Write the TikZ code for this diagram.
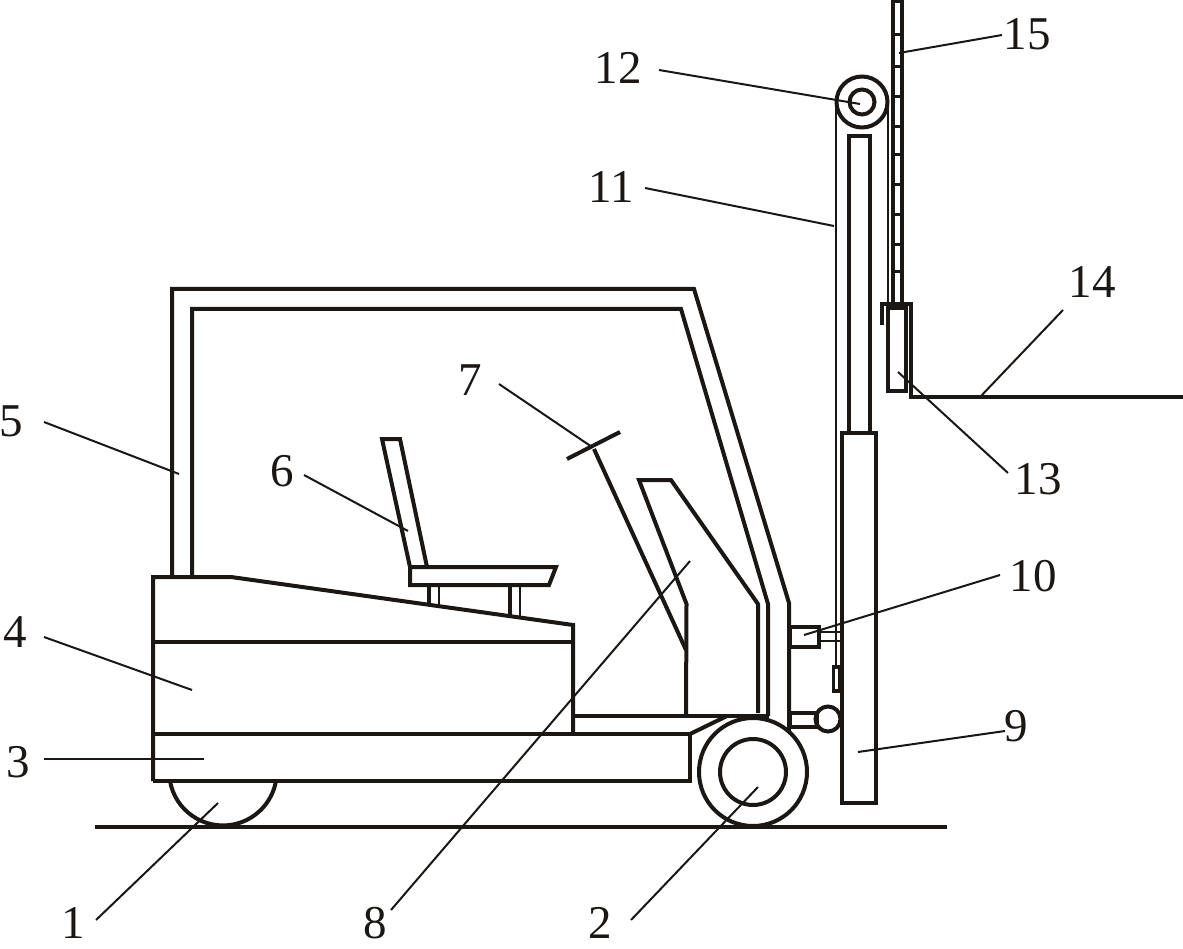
\documentclass[tikz,border=0pt]{standalone}
\usepackage{fontspec}
\setmainfont{Liberation Serif}
\definecolor{inkc}{HTML}{1A1714}
\tikzset{
  part/.style={line width=4pt,line join=miter,draw=inkc},
  thinpart/.style={line width=2.8pt,draw=inkc},
  leader/.style={line width=2pt,draw=inkc},
  lab/.style={inner sep=0pt,text=inkc,font=\fontsize{47}{47}\selectfont}
}
\begin{document}
\begin{tikzpicture}[x=1pt,y=-1pt]
\useasboundingbox (0,0) rectangle (1183,949);
% ground
\draw[part] (95,827) -- (947,827);
% rear wheel
\draw[part] (170,781) arc[start angle=170,end angle=10,radius=53.8];
% chassis
\draw[part] (153,781) -- (690,781) -- (690,734) -- (153,734);
\draw[part] (690,734) -- (727,716);
\draw[part] (573,716) -- (769,716);
% battery cover
\draw[part] (153,781) -- (153,577) -- (231,577) -- (573,625) -- (573,734);
\draw[part] (153,642) -- (573,642);
% overhead guard
\draw[part] (172,577) -- (172,289) -- (694,289) -- (789,603) -- (789,731);
\draw[part] (192,577) -- (192,309) -- (681,309) -- (768,604) -- (768,716);
% front panel
\draw[part] (686,716) -- (686.5,604) -- (639,480) -- (671,480) -- (758,604) -- (758,713);
% steering
\draw[part] (594,449) -- (686,650);
\draw[part] (567,459) -- (620,432);
% seat
\draw[part] (410,567) -- (382,439) -- (400,439) -- (427,567);
\draw[part] (410,567) -- (556,567) -- (549,585) -- (410,585) -- cycle;
\draw[part] (429,585) -- (429,605);
\draw[thinpart] (439,585) -- (439,606);
\draw[part] (510,585) -- (510,616);
\draw[thinpart] (520,585) -- (520,617);
% front wheel
\draw[part] (753,772) circle[radius=54];
\draw[part] (753,772) circle[radius=33];
% mast
\draw[part] (849,433) -- (849,136) -- (870,136) -- (870,433);
\draw[part] (842,433) rectangle (876,803);
% pulley and chain
\draw[part] (862,102) circle[radius=25.5];
\draw[part] (862,102) circle[radius=12.5];
\draw[thinpart] (836,104) -- (836,667);
\draw[thinpart] (888,104) -- (888,304);
\draw[part,line width=3.2pt] (833.5,667) rectangle (840,691);
% tilt cylinder
\draw[part] (790,627) rectangle (819,647);
\draw[thinpart] (819,632) -- (841,632);
\draw[thinpart] (819,641) -- (841,641);
\draw[part] (790,713) rectangle (817,727);
\draw[part] (828,719) circle[radius=12.5];
% rack
\draw[part] (893,0) -- (893,303);
\draw[part] (901.5,0) -- (901.5,303);
\foreach \ry in {2,35,67,97,127,155,185,215,245,272}
  \draw[part,line width=3pt] (893,\ry) -- (901.5,\ry);
% carriage and fork
\draw[part] (882,325) -- (882,304) -- (911,304) -- (911,396.5) -- (1183,396.5);
\draw[part] (887.5,308) rectangle (906,391);
% labels
\node[lab] (l1) at (73,923) {1};
\node[lab] (l2) at (600,923) {2};
\node[lab] (l3) at (18,762) {3};
\node[lab] (l4) at (15,632) {4};
\node[lab] (l5) at (11,421) {5};
\node[lab] (l6) at (282,471) {6};
\node[lab] (l7) at (470,380) {7};
\node[lab] (l8) at (375,923) {8};
\node[lab] (l9) at (1016,726) {9};
\node[lab] (l10) at (1033,576) {10};
\node[lab] (l11) at (611,187) {11};
\node[lab] (l12) at (618,68) {12};
\node[lab] (l13) at (1038,479) {13};
\node[lab] (l14) at (1092,282) {14};
\node[lab] (l15) at (1027,34) {15};
% leader ends
\coordinate (p1) at (218,803);
\coordinate (p2) at (758,787);
\coordinate (p3) at (204,759);
\coordinate (p4) at (192,690);
\coordinate (p5) at (179,474);
\coordinate (p6) at (408,531);
\coordinate (p7) at (592,447);
\coordinate (p8) at (690,561);
\coordinate (p9) at (858,752);
\coordinate (p10) at (804,635);
\coordinate (p11) at (834,226);
\coordinate (p12) at (860,104);
\coordinate (p13) at (898,372);
\coordinate (p14) at (981,396);
\coordinate (p15) at (899,53);
\foreach \n/\dx/\dy in {1/23/-3,2/31/-3,3/26/-3,4/29/5,5/33/1,6/22/4,7/29/4,8/16/-13,9/-11/5,10/-33/-1,11/34/1,12/41/2,13/-30/-6,14/-29/28,15/-25/1}
  \draw[leader] ([shift={(\dx,\dy)}]l\n.center) -- (p\n);
\end{tikzpicture}
\end{document}
